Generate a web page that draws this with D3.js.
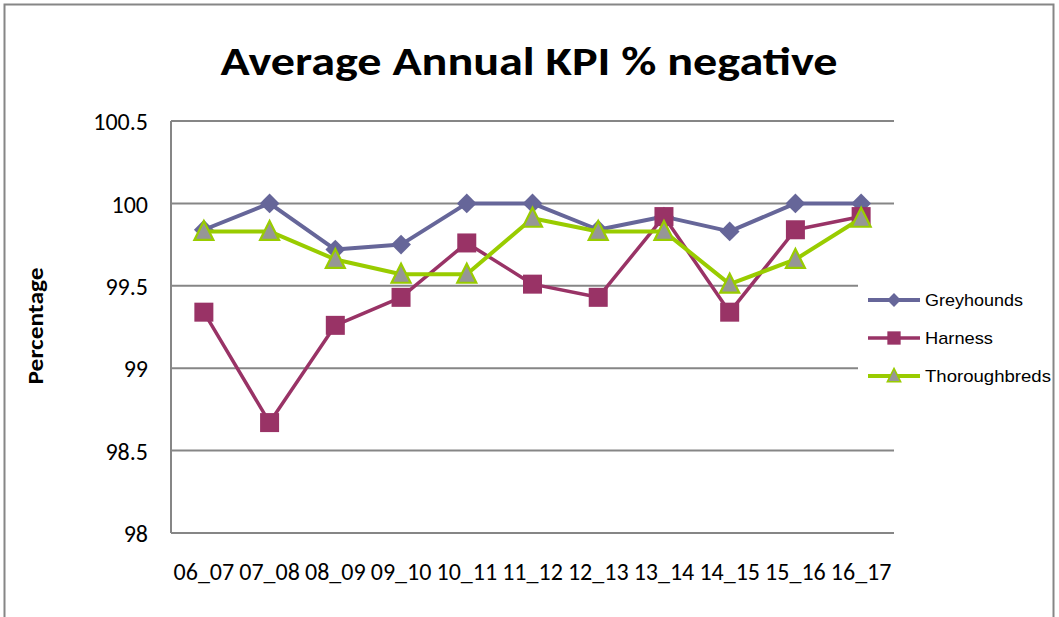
<!DOCTYPE html>
<html>
<head>
<meta charset="utf-8">
<script src="https://cdn.jsdelivr.net/npm/d3@7"></script>
<style>
  html, body { margin: 0; padding: 0; background: #fff; }
  svg { display: block; }
</style>
</head>
<body>
<svg id="chart" width="1059" height="617"></svg>
<script>
const categories = ["06_07","07_08","08_09","09_10","10_11","11_12","12_13","13_14","14_15","15_16","16_17"];
const greyhounds    = [99.84, 100.0, 99.72, 99.75, 100.0, 100.0, 99.84, 99.92, 99.83, 100.0, 100.0];
const harness       = [99.34, 98.67, 99.26, 99.43, 99.76, 99.51, 99.43, 99.92, 99.34, 99.84, 99.92];
const thoroughbreds = [99.83, 99.83, 99.66, 99.57, 99.57, 99.91, 99.83, 99.83, 99.51, 99.66, 99.91];
const seriesNames = ["Greyhounds", "Harness", "Thoroughbreds"];
const yTicks = [98, 98.5, 99, 99.5, 100, 100.5];
const yTickLabels = ["98", "98.5", "99", "99.5", "100", "100.5"];
const titleText = "Average Annual KPI % negative";
const yAxisTitle = "Percentage";

const svg = d3.select("#chart");
const plot = { left: 171, right: 894, top: 121, bottom: 533 };
const bodyFont = "Carlito, Calibri, Lato, 'Open Sans', sans-serif";

// outer border
svg.append("rect").attr("x", 4.5).attr("y", 4.5).attr("width", 1049).attr("height", 640)
  .attr("fill", "#fff").attr("stroke", "#868686").attr("stroke-width", 2);

const x = d3.scaleBand().domain(categories).range([plot.left, plot.right]).padding(0);
const y = d3.scaleLinear().domain([98, 100.5]).range([plot.bottom, plot.top]);

// gridlines
svg.append("g").selectAll("line").data(yTicks).join("line")
  .attr("x1", plot.left).attr("x2", plot.right)
  .attr("y1", d => y(d)).attr("y2", d => y(d))
  .attr("stroke", "#868686").attr("stroke-width", 2);

// y axis line
svg.append("line").attr("x1", plot.left).attr("x2", plot.left)
  .attr("y1", plot.top).attr("y2", plot.bottom)
  .attr("stroke", "#868686").attr("stroke-width", 2);

// y tick labels via axis
const yAxis = d3.axisLeft(y).tickValues(yTicks).tickSize(0).tickPadding(0)
  .tickFormat((d, i) => yTickLabels[i]);
const gy = svg.append("g").attr("transform", `translate(${plot.left - 23},0)`).call(yAxis);
gy.select(".domain").remove();
gy.selectAll("text").attr("font-family", bodyFont).attr("font-size", 24).attr("fill", "#000").attr("dy", "0.36em");

// x tick labels via axis
const xAxis = d3.axisBottom(x).tickSize(0).tickPadding(0);
const gx = svg.append("g").attr("transform", `translate(0,580)`).call(xAxis);
gx.select(".domain").remove();
gx.selectAll("text").attr("font-family", bodyFont).attr("font-size", 24).attr("fill", "#000")
  .attr("y", 0).attr("dy", "0");

// titles
svg.append("text").attr("x", 529).attr("y", 75).attr("text-anchor", "middle")
  .attr("font-family", bodyFont).attr("font-weight", "bold").attr("font-size", 41)
  .attr("textLength", 617).attr("lengthAdjust", "spacingAndGlyphs")
  .text(titleText);

svg.append("text").attr("transform", "translate(43,326) rotate(-90)").attr("text-anchor", "middle")
  .attr("font-family", bodyFont).attr("font-weight", "bold").attr("font-size", 22)
  .attr("textLength", 117).attr("lengthAdjust", "spacingAndGlyphs")
  .text(yAxisTitle);

// series
const series = [
  { name: seriesNames[0], values: greyhounds, color: "#666699", width: 4, marker: "diamond", len: 98 },
  { name: seriesNames[1], values: harness, color: "#993366", width: 3.5, marker: "square", len: 68 },
  { name: seriesNames[2], values: thoroughbreds, color: "#99CC00", width: 4, marker: "triangle", len: 126 }
];

const cx = c => x(c) + x.bandwidth() / 2;
const line = d3.line().x(d => cx(d.c)).y(d => y(d.v));

function drawMarker(g, type, color, px, py, scale) {
  const s = scale || 1;
  if (type === "diamond") {
    g.append("path").attr("d", d3.symbol(d3.symbolDiamond2, 250 * s * s)())
      .attr("transform", `translate(${px},${py})`)
      .attr("fill", color);
  } else if (type === "square") {
    const h = 9.5 * s;
    g.append("rect").attr("x", px - h).attr("y", py - h).attr("width", 2 * h).attr("height", 2 * h)
      .attr("fill", color);
  } else {
    const hw = 9.5 * s, ht = 9.5 * s;
    g.append("path").attr("d", `M${px},${py - ht - 1}L${px + hw},${py + ht - 1}L${px - hw},${py + ht - 1}Z`)
      .attr("fill", "#969696").attr("stroke", color).attr("stroke-width", 2.2 * Math.max(s, 0.7)).attr("stroke-linejoin", "miter");
  }
}

series.forEach(s => {
  const pts = s.values.map((v, i) => ({ c: categories[i], v }));
  const g = svg.append("g");
  g.append("path").datum(pts).attr("d", line).attr("fill", "none")
    .attr("stroke", s.color).attr("stroke-width", s.width).attr("stroke-linejoin", "round");
  pts.forEach(p => drawMarker(g, s.marker, s.color, cx(p.c), y(p.v)));
});

// legend
const legend = svg.append("g");
legend.append("rect").attr("x", 858).attr("y", 270).attr("width", 194).attr("height", 130).attr("fill", "#fff");
series.forEach((s, i) => {
  const ly = 300 + i * 38;
  legend.append("line").attr("x1", 868).attr("x2", 920).attr("y1", ly).attr("y2", ly)
    .attr("stroke", s.color).attr("stroke-width", s.width);
  drawMarker(legend, s.marker, s.color, 894, ly, 0.7);
  legend.append("text").attr("x", 925).attr("y", ly).attr("dy", "0.36em")
    .attr("font-family", "'Liberation Sans', Arial, sans-serif").attr("font-size", 17)
    .attr("textLength", s.len).attr("lengthAdjust", "spacingAndGlyphs")
    .text(s.name);
});
</script>
</body>
</html>
